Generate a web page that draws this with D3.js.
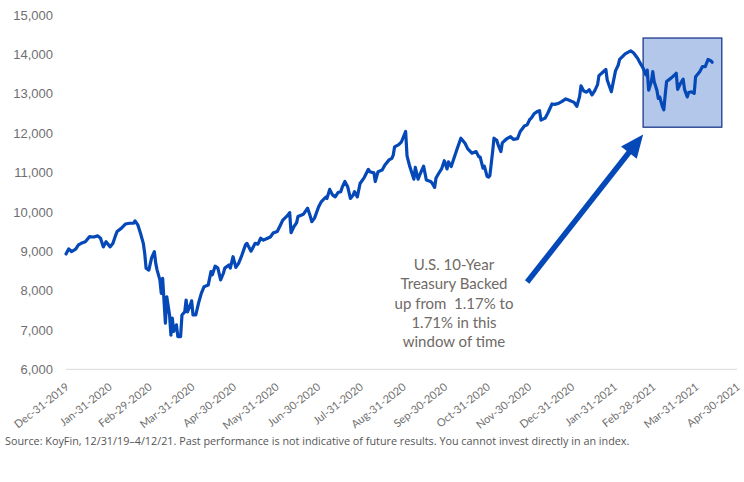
<!DOCTYPE html>
<html>
<head>
<meta charset="utf-8">
<script src="https://cdn.jsdelivr.net/npm/d3@7"></script>
<style>
  html, body { margin: 0; padding: 0; background: #fff; }
  svg { display: block; }
</style>
</head>
<body>
<svg id="chart" width="744" height="482"></svg>
<script>
// ---- DATA ----
const startDate = "2019-12-31";
// trading days, as days since Dec-31-2019
const daysSinceStart = [0,2,4,7,9,11,14,17,20,23,25,27,29,32,34,36,37,40,43,46,49,50,52,54,56,57,58,60,62,64,65,66,68,69,70,72,73,75,76,77,78,80,81,83,84,86,87,88,90,91,92,94,96,98,100,103,105,106,108,110,112,114,115,118,119,121,123,125,127,130,131,134,137,139,141,143,146,148,150,153,155,157,160,162,163,165,167,168,172,175,177,178,180,183,185,188,189,191,193,195,197,199,200,202,204,206,208,209,211,213,216,219,220,223,224,226,229,231,234,236,237,238,241,243,244,246,247,249,252,253,255,256,259,261,264,265,267,268,270,272,274,276,277,279,281,283,286,289,291,294,297,299,300,302,303,305,306,307,309,310,312,313,315,316,319,322,324,327,329,332,334,336,337,339,341,343,344,347,349,352,354,357,359,362,364,368,370,372,373,375,377,379,381,383,385,386,388,391,392,395,396,398,400,401,403,405,409,411,414,416,418,420,421,422,424,425,426,428,429,430,432,433,434,435,438,441,442,443,445,447,448,450,451,453,455,456,459,461,463,465,467,468];
const indexValues = [8930,9060,8990,9050,9160,9200,9240,9370,9360,9390,9330,9110,9240,9110,9200,9410,9500,9580,9690,9710,9710,9770,9670,9450,9200,8950,8570,8520,8830,8990,8690,8520,8270,7930,8310,7170,7840,7380,6870,7300,6960,7130,6830,6830,7380,7460,7760,7460,7630,7740,7380,7380,7680,7930,8100,8140,8480,8400,8620,8570,8270,8440,8570,8650,8570,8860,8590,8690,8860,9160,9200,9000,9200,9180,9330,9280,9330,9360,9460,9500,9640,9790,9890,9980,9470,9620,9720,9880,9940,10090,9880,9750,9840,10130,10260,10370,10340,10570,10430,10380,10490,10510,10620,10770,10640,10340,10430,10510,10380,10720,10870,11080,11020,10990,10770,11020,11060,11190,11320,11360,11440,11650,11710,11780,11870,12040,11420,11150,10830,11130,10830,10920,11160,10810,10770,10740,10620,10860,10980,11090,11300,11090,11270,11150,11360,11570,11870,11740,11600,11490,11530,11400,11390,11110,11160,10900,10880,10920,11530,11870,11820,11700,11530,11750,11850,11910,11840,11860,12040,12180,12210,12350,12380,12490,12540,12570,12330,12380,12510,12740,12730,12760,12800,12870,12840,12780,12680,12930,13200,13070,13040,13100,12970,13080,13230,13460,13520,13620,13350,13050,13230,13580,13730,13870,13940,14010,14090,14040,13900,13770,13650,13480,13600,13090,13310,13560,13310,13090,12880,12920,12670,12590,12970,13310,13390,13480,13520,13110,13260,13370,13110,12920,13030,13050,13010,13430,13560,13690,13690,13870,13840,13800];

const xTickLabels = ["Dec-31-2019","Jan-31-2020","Feb-29-2020","Mar-31-2020","Apr-30-2020","May-31-2020","Jun-30-2020","Jul-31-2020","Aug-31-2020","Sep-30-2020","Oct-31-2020","Nov-30-2020","Dec-31-2020","Jan-31-2021","Feb-28-2021","Mar-31-2021","Apr-30-2021"];
const yTickValues = [6000,7000,8000,9000,10000,11000,12000,13000,14000,15000];

// highlight window (dates / index levels)
const windowStart = "2021-02-21", windowEnd = "2021-04-19";
const windowLow = 12150, windowHigh = 14415;
// arrow: from (date, level) to (date, level)
const arrowFrom = ["2020-11-29", 8217];
const arrowTo = ["2021-02-21", 11964];

const annotationLines = ["U.S. 10-Year", "Treasury Backed", "up from  1.17% to", "1.71% in this", "window of time"];
const sourceText = "Source: KoyFin, 12/31/19\u20134/12/21. Past performance is not indicative of future results. You cannot invest directly in an index.";

// ---- CHART ----
const parseISO = d3.timeParse("%Y-%m-%d");
const parseTick = d3.timeParse("%b-%d-%Y");
const t0 = parseISO(startDate);
const n = Math.min(daysSinceStart.length, indexValues.length);
const data = d3.range(n).map(i => ({ date: d3.timeDay.offset(t0, daysSinceStart[i]), value: indexValues[i] }));
const tickDates = xTickLabels.map(parseTick);

const svg = d3.select("#chart");
const lineColor = "#0548b8";

const x = d3.scaleTime()
  .domain([tickDates[0], tickDates[tickDates.length - 1]])
  .range([66, 737]);
const y = d3.scaleLinear().domain([6000, 15000]).range([369.3, 15]);

// baseline
svg.append("line")
  .attr("x1", x.range()[0]).attr("x2", x.range()[1])
  .attr("y1", y(6000)).attr("y2", y(6000))
  .attr("stroke", "#d9d9d9").attr("stroke-width", 1);

// y axis
const yAxis = d3.axisLeft(y).tickValues(yTickValues).tickFormat(d3.format(",")).tickSize(0).tickPadding(0);
const gy = svg.append("g").attr("transform", "translate(53,0)").call(yAxis);
gy.select(".domain").remove();
gy.selectAll("text")
  .attr("font-family", "'Liberation Sans', Arial, sans-serif")
  .attr("font-size", 13)
  .attr("fill", "#6f6f6f");

// x axis
const xAxis = d3.axisBottom(x).tickValues(tickDates).tickFormat((d, i) => xTickLabels[i]).tickSize(0).tickPadding(0);
const gx = svg.append("g").attr("transform", `translate(0,${y(6000)})`).call(xAxis);
gx.select(".domain").remove();
gx.selectAll("text")
  .attr("font-family", "Lato, 'Open Sans', sans-serif")
  .attr("font-size", 11)
  .attr("fill", "#6f6f6f")
  .attr("text-anchor", "end")
  .attr("dy", "0.35em")
  .attr("y", 0)
  .attr("transform", "translate(1,16) rotate(-38)");

// highlight rectangle
svg.append("rect")
  .attr("x", x(parseISO(windowStart)))
  .attr("y", y(windowHigh))
  .attr("width", x(parseISO(windowEnd)) - x(parseISO(windowStart)))
  .attr("height", y(windowLow) - y(windowHigh))
  .attr("fill", "#b3c7ea")
  .attr("stroke", "#1c3a8c")
  .attr("stroke-width", 1.3);

// line
const line = d3.line().x(d => x(d.date)).y(d => y(d.value));
svg.append("path")
  .datum(data)
  .attr("d", line)
  .attr("fill", "none")
  .attr("stroke", lineColor)
  .attr("stroke-width", 3.2)
  .attr("stroke-linejoin", "round")
  .attr("stroke-linecap", "round");

// arrow
const ax1 = x(parseISO(arrowFrom[0])), ay1 = y(arrowFrom[1]);
const ax2 = x(parseISO(arrowTo[0])), ay2 = y(arrowTo[1]);
const ang = Math.atan2(ay2 - ay1, ax2 - ax1);
const headLen = 23, headHalf = 10;
const bx = ax2 - headLen * Math.cos(ang), by = ay2 - headLen * Math.sin(ang);
svg.append("line")
  .attr("x1", ax1).attr("y1", ay1)
  .attr("x2", bx + 2 * Math.cos(ang)).attr("y2", by + 2 * Math.sin(ang))
  .attr("stroke", lineColor).attr("stroke-width", 5.5);
const px = -Math.sin(ang), py = Math.cos(ang);
svg.append("polygon")
  .attr("points", [
    [ax2, ay2],
    [bx + headHalf * px, by + headHalf * py],
    [bx - headHalf * px, by - headHalf * py]
  ].map(p => p.join(",")).join(" "))
  .attr("fill", lineColor);

// annotation
const ann = svg.append("text")
  .attr("font-family", "Lato, 'Open Sans', sans-serif")
  .attr("font-size", 15)
  .attr("fill", "#6f6a66")
  .attr("text-anchor", "middle")
  .attr("xml:space", "preserve");
annotationLines.forEach((s, i) => {
  ann.append("tspan").attr("x", 454).attr("y", 270 + i * 19.3).text(s);
});

// source
svg.append("text")
  .attr("x", 5).attr("y", 445)
  .attr("font-family", "'Open Sans', sans-serif")
  .attr("font-size", 10.8)
  .attr("fill", "#555")
  .text(sourceText);
</script>
</body>
</html>
